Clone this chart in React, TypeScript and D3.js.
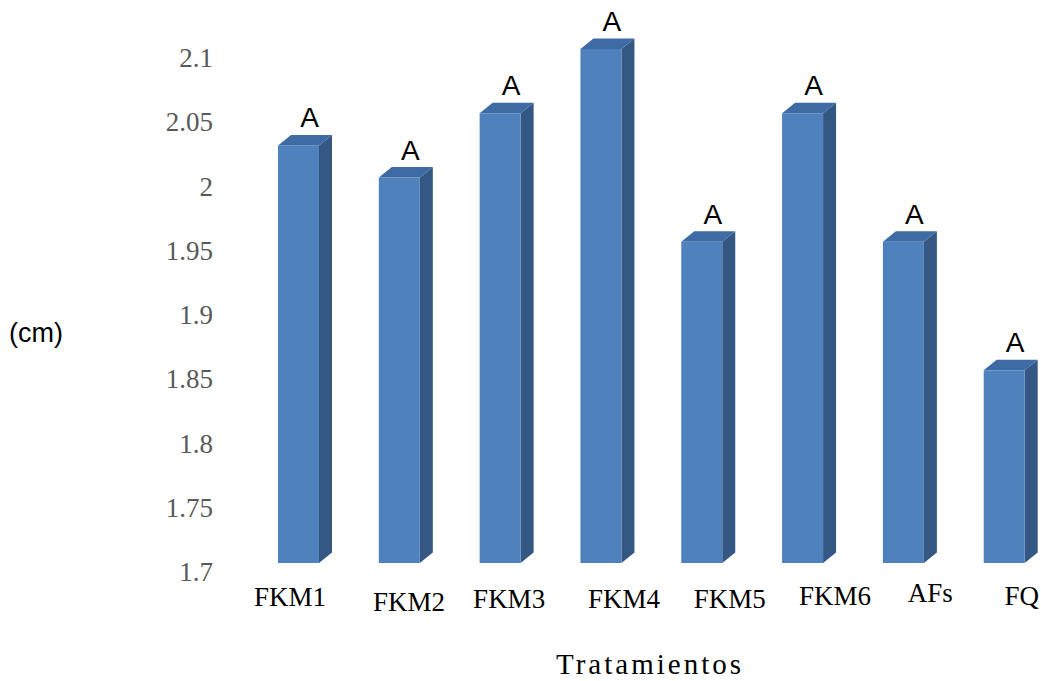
import React from "react";
import * as d3 from "d3";

const categories = ["FKM1", "FKM2", "FKM3", "FKM4", "FKM5", "FKM6", "AFs", "FQ"];
const values = [2.025, 2.0, 2.05, 2.1, 1.95, 2.05, 1.95, 1.85];
const letters = ["A", "A", "A", "A", "A", "A", "A", "A"];
const yTicks = [1.7, 1.75, 1.8, 1.85, 1.9, 1.95, 2.0, 2.05, 2.1];
const yTickLabels = ["1.7", "1.75", "1.8", "1.85", "1.9", "1.95", "2", "2.05", "2.1"];
// hand-placed category label nudges seen in the original (relative offsets)
const labelNudgeX = [-8.5, 9.7, 9, 23, 28, 32.5, 27, 17.5];
const labelNudgeY = [-2, 3, 0, 0, 0, -3, -6, -3];

const W = 1041;
const H = 681;
const DX = 13;
const DY = 10.5;
const BAR_W = 41;
const FRONT = "#4f81bd";
const SIDE = "#345783";
const TOP = "#3e6ba3";

export default function App() {
  const y = d3.scaleLinear().domain([1.7, 2.1]).range([563, 49]);
  const x = d3.scalePoint<string>().domain(categories).range([298.5, 1004.2]);
  const base = y(1.7);

  return (
    <svg
      width={W}
      height={H}
      style={{ position: "absolute", left: 0, top: 0, display: "block", background: "#fff" }}
    >
      {/* y tick labels */}
      {yTicks.map((t, i) => (
        <text
          key={"yt" + i}
          x={213}
          y={y(t) + 18}
          textAnchor="end"
          fontFamily="'Liberation Serif', serif"
          fontSize={27}
          fill="#595959"
        >
          {yTickLabels[i]}
        </text>
      ))}

      {/* bars */}
      {categories.map((c, i) => {
        const cx = x(c) as number;
        const x0 = cx - BAR_W / 2;
        const x1 = cx + BAR_W / 2;
        const yt = y(values[i]);
        const side = `${x1},${yt} ${x1 + DX},${yt - DY} ${x1 + DX},${base - DY} ${x1},${base}`;
        const top = `${x0},${yt} ${x0 + DX},${yt - DY} ${x1 + DX},${yt - DY} ${x1},${yt}`;
        return (
          <g key={"b" + i}>
            <polygon points={side} fill={SIDE} />
            <polygon points={top} fill={TOP} />
            <rect x={x0} y={yt} width={BAR_W} height={base - yt} fill={FRONT} />
            <text
              x={cx + 11}
              y={yt - 18}
              textAnchor="middle"
              fontFamily="'Liberation Sans', Arial, sans-serif"
              fontSize={28}
              fill="#000"
            >
              {letters[i]}
            </text>
          </g>
        );
      })}

      {/* category labels */}
      {categories.map((c, i) => (
        <text
          key={"xl" + i}
          x={(x(c) as number) + labelNudgeX[i]}
          y={608 + labelNudgeY[i]}
          textAnchor="middle"
          fontFamily="'Liberation Serif', serif"
          fontSize={27}
          fill="#000"
        >
          {c}
        </text>
      ))}

      {/* axis titles */}
      <text
        x={648.5}
        y={674}
        textAnchor="middle"
        fontFamily="'Liberation Serif', serif"
        fontSize={29}
        textLength={185}
        lengthAdjust="spacing"
        fill="#000"
      >
        Tratamientos
      </text>
      <text
        x={9}
        y={342}
        fontFamily="'Liberation Sans', Arial, sans-serif"
        fontSize={27}
        fill="#000"
      >
        (cm)
      </text>
    </svg>
  );
}
